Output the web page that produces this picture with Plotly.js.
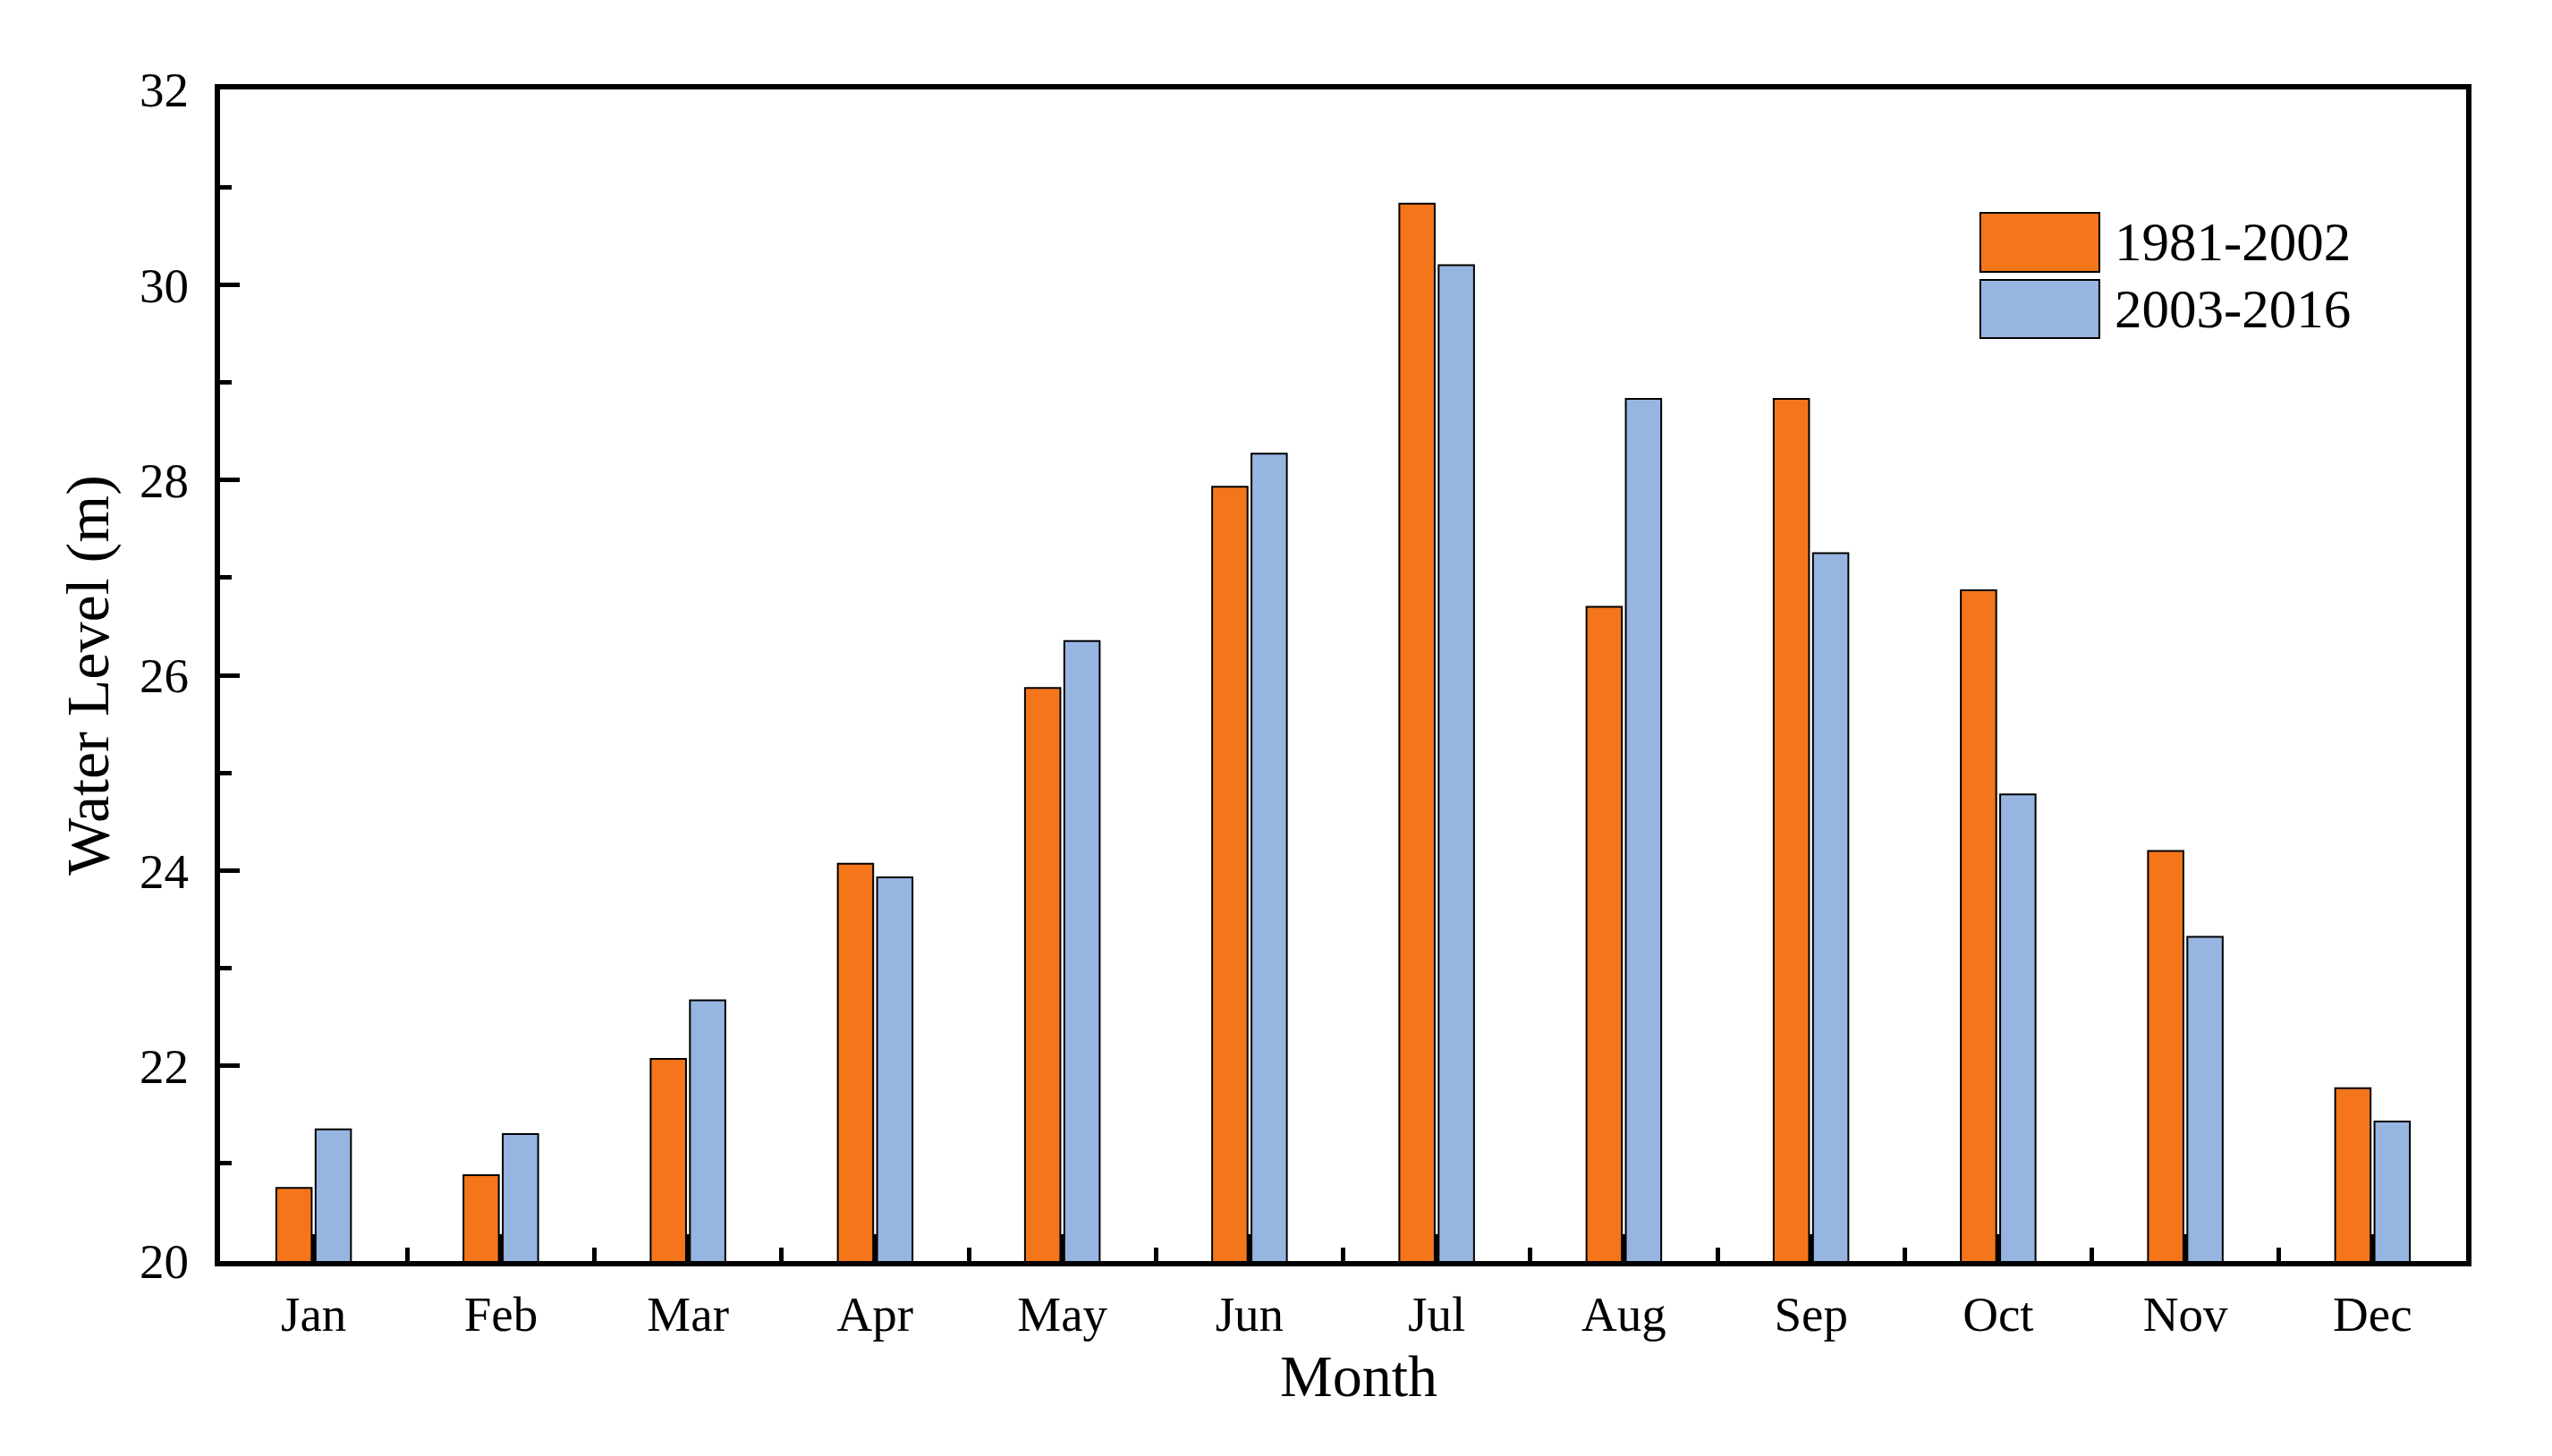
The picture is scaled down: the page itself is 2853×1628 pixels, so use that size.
<!DOCTYPE html>
<html>
<head>
<meta charset="utf-8">
<script src="https://cdn.plot.ly/plotly-3.0.1.min.js"></script>
<style>html,body{margin:0;padding:0;background:#fff;}#chart{width:2853px;height:1628px;}</style>
</head>
<body>
<div id="chart"></div>
<script>
const months = ["Jan","Feb","Mar","Apr","May","Jun","Jul","Aug","Sep","Oct","Nov","Dec"];
const seriesNames = ["1981-2002","2003-2016"];
const level1981_2002 = [20.75,20.88,22.07,24.07,25.87,27.93,30.83,26.70,28.83,26.87,24.20,21.77];
const level2003_2016 = [21.35,21.30,22.67,23.93,26.35,28.27,30.20,28.83,27.25,24.78,23.32,21.43];
const yTicks = [20,22,24,26,28,30,32];
const colors = ["#F5761A","#97B5E1"];

const FONT = "Liberation Serif, Times New Roman, serif";

const traces = [
  {type:"bar", name:seriesNames[0], x:months, y:level1981_2002,
   marker:{color:colors[0], line:{color:"#000", width:2}}},
  {type:"bar", name:seriesNames[1], x:months, y:level2003_2016,
   marker:{color:colors[1], line:{color:"#000", width:2}}},
  {type:"scatter", x:[], y:[], xaxis:"x2", yaxis:"y", showlegend:false, hoverinfo:"skip"}
];

const boundaryTicks = months.slice(0, -1).map((m, i) => i + 0.5);

// legend drawn in paper coords
const lgX0 = 0.7837, lgX1 = 0.8367;
const lgRows = [[0.8443, 0.8947], [0.7878, 0.8374]];
const shapes = [], annotations = [];
seriesNames.forEach((n, i) => {
  shapes.push({type:"rect", xref:"paper", yref:"paper", x0:lgX0, x1:lgX1,
    y0:lgRows[i][0], y1:lgRows[i][1], fillcolor:colors[i], line:{color:"#000", width:2}});
  annotations.push({xref:"paper", yref:"paper", x:0.8425, y:(lgRows[i][0]+lgRows[i][1])/2,
    xanchor:"left", yanchor:"middle", showarrow:false, text:n,
    font:{family:FONT, size:61, color:"#000"}});
});
annotations.push({xref:"paper", yref:"paper", x:0.507, y:-0.0, yshift:-128,
  xanchor:"center", yanchor:"middle", showarrow:false, text:"Month",
  font:{family:FONT, size:66, color:"#000"}});

const layout = {
  width:2853, height:1628,
  margin:{l:246, r:96, t:100, b:218},
  paper_bgcolor:"#fff", plot_bgcolor:"#fff",
  showlegend:false,
  barmode:"group", bargap:0.58, bargroupgap:0.1,
  font:{family:FONT, color:"#000"},
  xaxis:{
    type:"category", range:[-0.5, 11.5], showgrid:false, zeroline:false,
    showline:true, linecolor:"#000", linewidth:6, mirror:true,
    ticks:"inside", ticklen:30, tickwidth:5, tickcolor:"#000",
    tickfont:{family:FONT, size:55, color:"#000"}, ticklabelstandoff:6,
    title:{text:""}
  },
  xaxis2:{
    overlaying:"x", anchor:"y", range:[-0.5, 11.5], showgrid:false, zeroline:false,
    showline:false, tickmode:"array", tickvals:boundaryTicks, showticklabels:false,
    ticks:"inside", ticklen:15, tickwidth:5, tickcolor:"#000", side:"bottom"
  },
  yaxis:{
    range:[20, 32], tickmode:"array", tickvals:yTicks, showgrid:false, zeroline:false,
    showline:true, linecolor:"#000", linewidth:6, mirror:true,
    ticks:"inside", ticklen:22, tickwidth:5, tickcolor:"#000",
    minor:{dtick:1, ticks:"inside", ticklen:13, tickwidth:5, tickcolor:"#000", showgrid:false},
    tickfont:{family:FONT, size:55, color:"#000"}, ticklabelstandoff:18,
    title:{text:"Water Level (m)", font:{family:FONT, size:68, color:"#000"}, standoff:14}
  },
  shapes:shapes, annotations:annotations
};

Plotly.newPlot("chart", traces, layout, {displayModeBar:false, staticPlot:true});
</script>
</body>
</html>
